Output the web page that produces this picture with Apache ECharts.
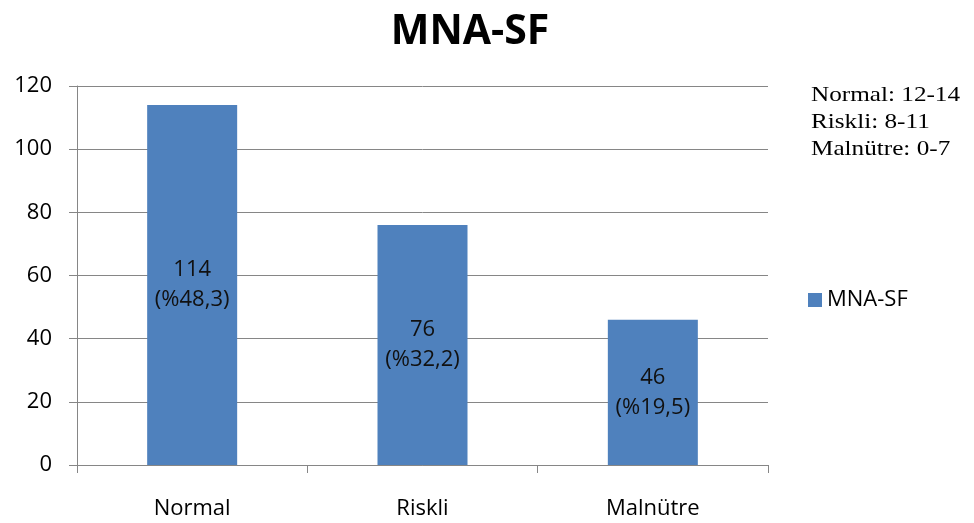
<!DOCTYPE html>
<html><head><meta charset="utf-8">
<script src="https://cdn.jsdelivr.net/npm/echarts@6/dist/echarts.min.js"></script>
<style>html,body{margin:0;padding:0;background:#fff}#c{width:974px;height:523px}</style>
</head><body><div id="c"></div>
<script>
const categories = ['Normal', 'Riskli', 'Malnütre'];
const values = [114, 76, 46];
const percents = ['%48,3', '%32,2', '%19,5'];
const seriesName = 'MNA-SF';
const noteLines = ['Normal: 12-14', 'Riskli: 8-11', 'Malnütre: 0-7'];

const SANS = '"Open Sans"';
const chart = echarts.init(document.getElementById('c'));
chart.setOption({
  animation: false,
  title: {
    text: 'MNA-SF', left: 465, top: 7, textAlign: 'center',
    textStyle: { fontFamily: SANS, fontWeight: 'bold', fontSize: 41, color: '#000' }
  },
  graphic: [{
    type: 'text', x: 811, y: 82, scaleX: 1.2,
    style: { text: noteLines.join('\n'), font: '21px "Liberation Serif"', lineHeight: 27, fill: '#000' }
  }],
  legend: {
    data: [seriesName], left: 808, top: 289, padding: 0, icon: 'rect', itemWidth: 14, itemHeight: 14, itemGap: 9,
    textStyle: { fontFamily: SANS, fontSize: 22, color: '#000' }
  },
  grid: { left: 77, right: 206, top: 86, bottom: 58, containLabel: false },
  xAxis: {
    type: 'category', data: categories,
    axisLine: { lineStyle: { color: '#868686' } },
    axisTick: { show: true, alignWithLabel: false, length: 8, lineStyle: { color: '#868686' } },
    axisLabel: { fontFamily: SANS, fontSize: 22, color: '#000', margin: 33 }
  },
  yAxis: {
    type: 'value', min: 0, max: 120, interval: 20,
    axisLine: { show: true, lineStyle: { color: '#868686' } },
    axisTick: { show: true, length: 8, lineStyle: { color: '#868686' } },
    splitLine: { lineStyle: { color: '#868686' } },
    axisLabel: { fontFamily: SANS, fontSize: 22, color: '#000', margin: 25 }
  },
  series: [{
    name: seriesName, type: 'bar', data: values, barWidth: 90,
    itemStyle: { color: '#4F81BD' },
    label: {
      show: true, position: 'inside', fontFamily: SANS, fontSize: 22, color: '#111', lineHeight: 30,
      formatter: p => p.value + '\n(' + percents[p.dataIndex] + ')'
    }
  }]
});
</script></body></html>
